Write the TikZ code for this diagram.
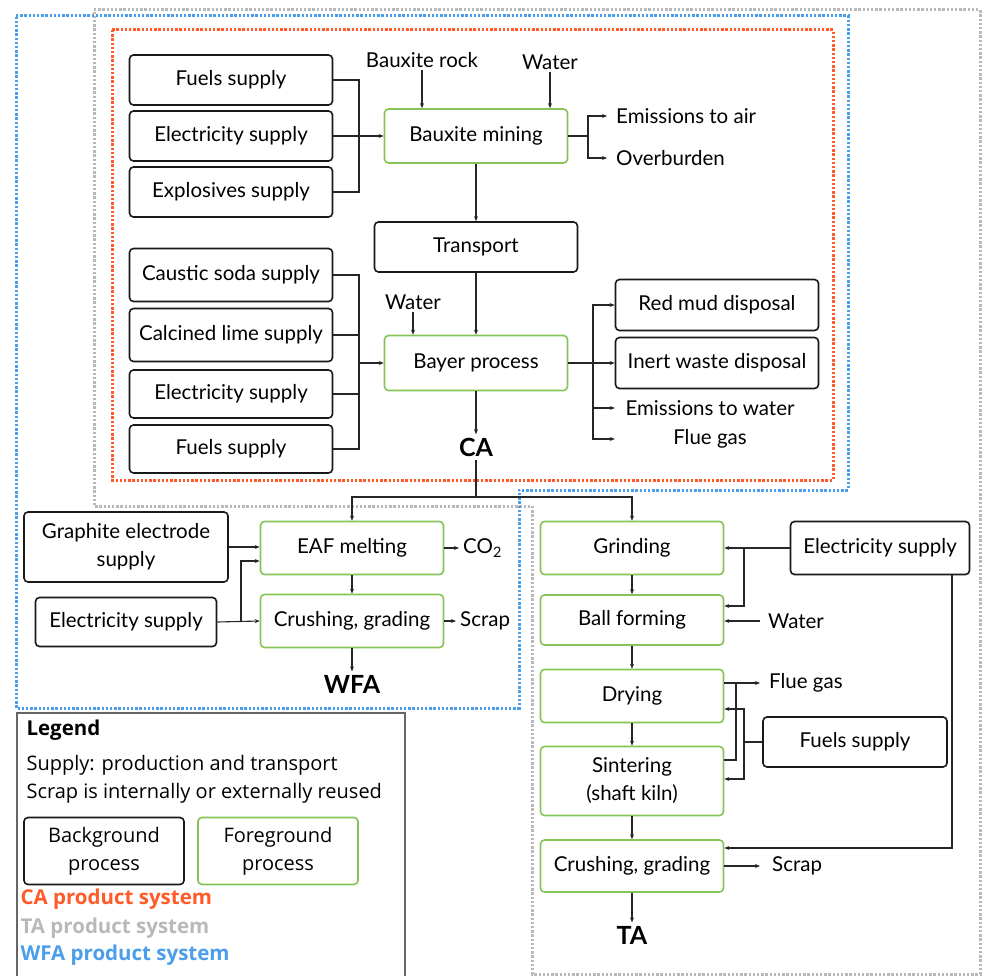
\documentclass[tikz,border=0pt]{standalone}
\usepackage{fontspec}
\setmainfont{Lato}
\newfontfamily\legendfont{Open Sans}
\usepackage{tikz}
\usetikzlibrary{arrows.meta}
\definecolor{fggreen}{RGB}{135,196,88}
\definecolor{caorange}{RGB}{255,90,40}
\definecolor{tagray}{RGB}{185,185,185}
\definecolor{wfablue}{RGB}{75,158,235}

\begin{document}
\begin{tikzpicture}[x=1pt, y=-1pt, >={Stealth[length=5pt,width=4pt]}, font=\fontsize{20.5}{28}\selectfont]
	\tikzstyle{process}=[rectangle, rounded corners=4pt, line width=1.6pt, inner sep=0pt, align=center]
	\tikzstyle{background process}=[process, draw=black!90, minimum width=203pt, minimum height=50pt]
	\tikzstyle{foreground process}=[process, draw=fggreen, minimum width=183pt, minimum height=53pt]
	\tikzstyle{flow}=[inner xsep=4pt, inner ysep=2pt]
	\tikzstyle{product}=[font=\fontsize{25}{28}\selectfont\bfseries]
	\tikzstyle{link}=[line width=1.1pt, draw=black!85]
	\tikzstyle{boundary}=[line width=3pt, dash pattern=on 2.4pt off 1.8pt]
	\tikzstyle{legend}=[font=\legendfont\fontsize{20}{28}\selectfont]
	\tikzstyle{key}=[legend, anchor=west, font=\legendfont\fontsize{20.5}{22}\selectfont\bfseries]
	
	\fill[white] (0,0) rectangle (982,976);
	\useasboundingbox (0,0) rectangle (982,976);
	
	% Draw the product systems
	\draw[boundary, draw=tagray] (94,10) -- (980,10) -- (980,974) -- (532,974) -- (532,506) -- (94,506) -- cycle;
	\draw[boundary, draw=wfablue] (16,16) -- (848,16) -- (848,490) -- (519,490) -- (519,708) -- (16,708) -- cycle;
	\draw[boundary, draw=caorange] (112,30) rectangle (833,480);
	
	% Draw the bauxite mining
	\node[background process] (fuels_1) at (231,80) {Fuels supply};
	\node[background process] (elec_1) at (231,136) {Electricity supply};
	\node[background process] (expl) at (231,192) {Explosives supply};
	\node[foreground process, minimum height=54pt] (mining) at (476,136) {Bauxite mining};
	\node[flow] (rock) at (422,60) {Bauxite rock};
	\node[flow] (water_1) at (550,62) {Water};
	\node[flow, inner xsep=9pt, anchor=west] (air) at (607,116) {Emissions to air};
	\node[flow, inner xsep=9pt, anchor=west] (overburden) at (607,158) {Overburden};
	
	% Draw the Bayer process
	\node[background process] (transport) at (476,247) {Transport};
	\node[background process, minimum height=53pt] (caustic) at (231,275) {Caustic soda supply};
	\node[background process, minimum height=53pt] (lime) at (231,335) {Calcined lime supply};
	\node[background process, minimum height=48pt] (elec_2) at (231,394) {Electricity supply};
	\node[background process, minimum height=48pt] (fuels_2) at (231,449) {Fuels supply};
	\node[foreground process, minimum height=55pt] (bayer) at (476,363) {Bayer process};
	\node[flow] (water_2) at (413,302) {Water};
	\node[background process, minimum height=51pt] (redmud) at (717,305) {Red mud disposal};
	\node[background process, minimum height=51pt] (inert) at (717,363) {Inert waste disposal};
	\node[flow, minimum width=190pt] (emwater) at (710,408) {Emissions to water};
	\node[flow, minimum width=190pt] (flue_1) at (710,439) {Flue gas};
	\node[product] (CA) at (476,447) {CA};
	
	% Draw the WFA route
	\node[foreground process] (eaf) at (352,548) {EAF melting};
	\node[foreground process] (crush_1) at (352,621) {Crushing, grading};
	\node[background process, minimum width=204pt, minimum height=70pt] (graphite) at (126,547) {Graphite electrode\\supply};
	\node[background process, minimum width=181pt, minimum height=49pt] (elec_3) at (126,622) {Electricity supply};
	\node[flow, anchor=west] (co2) at (459,548) {CO\textsubscript{2}};
	\node[flow, anchor=west] (scrap_1) at (456,621) {Scrap};
	\node[product] (WFA) at (352,684) {WFA};
	
	% Draw the TA route
	\node[foreground process] (grinding) at (632,548) {Grinding};
	\node[foreground process, minimum height=50pt] (ballform) at (632,620) {Ball forming};
	\node[foreground process] (drying) at (632,696) {Drying};
	\node[foreground process, minimum height=69pt] (sintering) at (632,781) {Sintering\\(shaft kiln)};
	\node[foreground process, minimum height=52pt] (crush_2) at (632,866) {Crushing, grading};
	\node[product] (TA) at (632,935) {TA};
	\node[background process, minimum width=179pt, minimum height=53pt] (elec_4) at (880,548) {Electricity supply};
	\node[background process, minimum width=184pt] (fuels_3) at (855,742) {Fuels supply};
	\node[flow, inner xsep=8pt, anchor=west] (water_3) at (760,621) {Water};
	\node[flow, inner xsep=9pt, anchor=west] (flue_2) at (760,683) {Flue gas};
	\node[flow, inner xsep=12pt, anchor=west] (scrap_2) at (760,866) {Scrap};
	
	% Points where the lines join
	\coordinate (bus_1) at (359,136);
	\coordinate (min_out) at (588,136);
	\coordinate (bus_2) at (359,363);
	\coordinate (bay_out) at (593,363);
	\coordinate (split) at (476,497);
	\coordinate (elec_branch_1) at (241,622);
	\coordinate (elec_branch_2) at (744,548);
	\coordinate (elec_down) at (952,848);
	\coordinate (flue_bus) at (736,683);
	\coordinate (fuel_bus) at (744,742);
	
	% Draw arrows
	\draw[link] (fuels_1.east) -| (bus_1) |- (expl.east);
	\draw[link, ->] (elec_1.east) -- (mining.west);
	\draw[link, ->] (rock) -- (rock |- mining.north);
	\draw[link, ->] (water_1) -- (water_1 |- mining.north);
	\draw[link] (mining.east) -- (min_out);
	\draw[link, ->] (min_out) |- (air.west);
	\draw[link, ->] (min_out) |- (overburden.west);
	\draw[link, ->] (mining) -- (transport);
	\draw[link, ->] (transport) -- (bayer);
	\draw[link] (caustic.east) -| (bus_2) |- (fuels_2.east);
	\draw[link] (lime.east) -- (lime.east -| bus_2);
	\draw[link] (elec_2.east) -- (elec_2.east -| bus_2);
	\draw[link, ->] (bus_2) -- (bayer.west);
	\draw[link, ->] (water_2) -- (water_2 |- bayer.north);
	\draw[link, ->] (bayer.east) -- (inert.west);
	\draw[link, ->] (bay_out) |- (redmud.west);
	\draw[link, ->] (bay_out) |- (emwater.west);
	\draw[link, ->] (bay_out) |- (flue_1.west);
	\draw[link, ->] (bayer) -- (CA);
	
	\draw[link] (CA) -- (split);
	\draw[link, ->] (split) -| (eaf.north);
	\draw[link, ->] (split) -| (grinding.north);
	\draw[link, ->] (graphite.east) -- (graphite.east -| eaf.west);
	\draw[link, ->] (elec_3.east) -- (crush_1.west);
	\draw[link, ->] (elec_branch_1) |- ([yshift=-13pt]eaf.west);
	\draw[link, ->] (eaf) -- (crush_1);
	\draw[link, ->] (eaf.east) -- (co2.west);
	\draw[link, ->] (crush_1.east) -- (scrap_1.west);
	\draw[link, ->] (crush_1) -- (WFA);
	
	\draw[link, ->] (grinding) -- (ballform);
	\draw[link, ->] (ballform) -- (drying);
	\draw[link, ->] (drying) -- (sintering);
	\draw[link, ->] (sintering) -- (crush_2);
	\draw[link, ->] (crush_2) -- (TA);
	\draw[link, ->] (elec_4.west) -- (grinding.east);
	\draw[link, ->] (elec_branch_2) |- ([yshift=14pt]ballform.east);
	\draw[link, ->] (elec_4.south -| elec_down) -- (elec_down) -- (elec_down -| crush_2.east);
	\draw[link, ->] (water_3.west) -- (water_3.west -| ballform.east);
	\draw[link, ->] ([yshift=13pt]drying.east) -- (flue_2.west);
	\draw[link] ([yshift=21pt]sintering.east) -| (flue_bus);
	\draw[link] (fuels_3.west) -- (fuel_bus);
	\draw[link, ->] (fuel_bus) |- ([yshift=-13pt]drying.east);
	\draw[link, ->] (fuel_bus) |- ([yshift=2pt]sintering.east);
	\draw[link, ->] (crush_2.east) -- (scrap_2.west);
	
	% Draw the legend
	\draw[line width=1.4pt, draw=black!60] (17,713) rectangle (405,982);
	\node[legend, anchor=west, font=\legendfont\fontsize{20.5}{22}\selectfont\bfseries] (legend_title) at (23,730) {Legend};
	\node[legend, anchor=west] (supply_note) at (23,765) {Supply: production and transport};
	\node[legend, anchor=west] (scrap_note) at (23,793) {Scrap is internally or externally reused};
	\node[background process, legend, minimum width=160pt, minimum height=67pt] (bg_key) at (104,851) {Background\\process};
	\node[foreground process, legend, minimum width=160pt, minimum height=67pt] (fg_key) at (278,851) {Foreground\\process};
	\node[key, text=caorange] (ca_key) at (17,899) {CA product system};
	\node[key, text=tagray] (ta_key) at (17,928) {TA product system};
	\node[key, text=wfablue] (wfa_key) at (17,955) {WFA product system};
\end{tikzpicture}
\end{document}
